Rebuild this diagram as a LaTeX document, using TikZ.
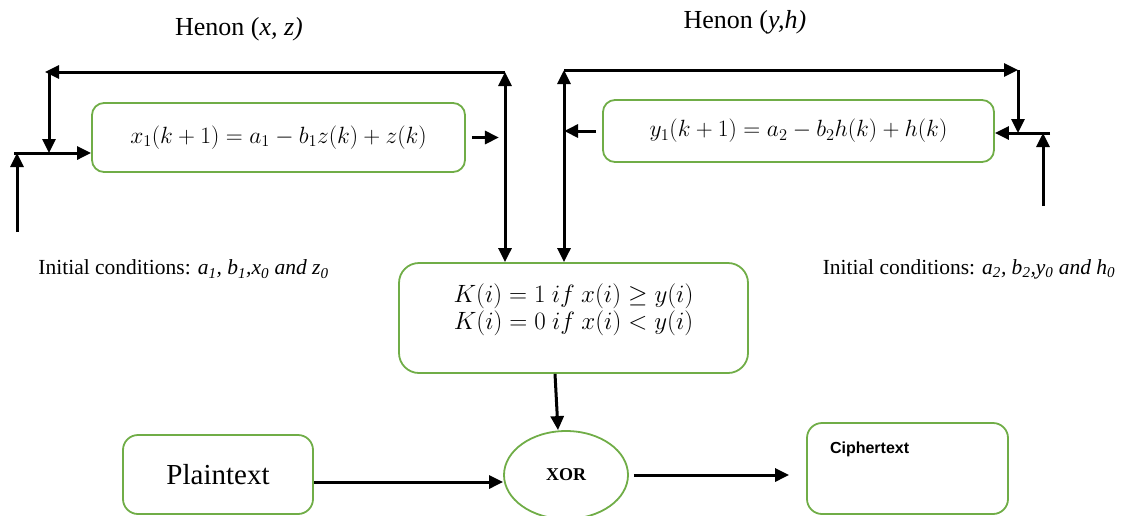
\RequirePackage{fix-cm}
\documentclass[tikz,border=0pt]{standalone}
\usepackage[no-math]{fontspec}
\setmainfont{Liberation Serif}
\newfontfamily\arialfont{Liberation Sans}
\usepackage{xcolor}
\usepackage{amsmath}
\usetikzlibrary{positioning}
\usetikzlibrary{shapes,arrows,calc,arrows.meta}
\definecolor{boxgreen}{RGB}{112,173,71}

\begin{document}
\begin{tikzpicture}[->,>={Triangle[length=14pt,width=13pt]},x=1pt,y=-1pt,line width=3pt,
    greenbox/.style={draw=boxgreen,line width=1.8pt,rounded corners=12pt,inner sep=0pt}]
  \useasboundingbox (0,0) rectangle (1123,515);
  % titles and initial conditions
  \node[font=\fontsize{26}{30}\selectfont] (hxz) at (239,29) {Henon (\textit{x, z)}};
  \node[font=\fontsize{26}{30}\selectfont] (hyh) at (745,22) {Henon (\textit{y,h)}};
  \node[font=\fontsize{21.5}{25}\selectfont] (icx) at (183.5,269) {Initial conditions: \textit{a\textsubscript{1}, b\textsubscript{1},x\textsubscript{0} and z\textsubscript{0}}};
  \node[font=\fontsize{21.5}{25}\selectfont] (icy) at (969,269) {Initial conditions: \textit{a\textsubscript{2}, b\textsubscript{2},y\textsubscript{0} and h\textsubscript{0}}};
  % blocks
  \node[greenbox,minimum width=373pt,minimum height=69pt,font=\fontsize{23.5}{28}\selectfont] (fx) at (278.5,137.5) {$x_1(k+1)=a_1-b_1z(k)+z(k)$};
  \node[greenbox,minimum width=391pt,minimum height=62pt,font=\fontsize{23.5}{28}\selectfont] (gy) at (798.5,131) {$y_1(k+1)=a_2-b_2h(k)+h(k)$};
  \node[greenbox,rounded corners=20pt,minimum width=349pt,minimum height=110pt,align=center,font=\fontsize{25}{27}\selectfont] (key) at (573.5,318)
    {$K(i)=1\ if\ x(i)\geq y(i)$\\$K(i)=0\ if\ x(i)<y(i)$\\[-5pt]\mbox{}};
  \node[greenbox,ellipse,minimum width=124pt,minimum height=88pt,font=\fontsize{18}{22}\selectfont\bfseries] (xor) at (566,475) {XOR};
  \node[greenbox,rounded corners=15pt,minimum width=190pt,minimum height=79pt,font=\fontsize{29}{34}\selectfont] (plain) at (218,474.5) {Plaintext};
  \node[greenbox,rounded corners=15pt,minimum width=201pt,text width=201pt,align=left,text height=30pt,text depth=61pt,
    font=\arialfont\bfseries\fontsize{16}{19}\selectfont] (cipher) at (907.5,468.5) {\hspace*{23pt}Ciphertext};
  % free ends of the loops
  \coordinate (xin) at (14,153);
  \coordinate (xic) at (17,232);
  \coordinate (xtl) at (45,72);
  \coordinate (xtr) at (505,72);
  \coordinate (ytl) at (564,70);
  \coordinate (ytr) at (1018,70);
  \coordinate (yin) at (1050,133);
  \coordinate (yic) at (1043,206);
  % Henon (x,z) loop
  \draw (xtr) -- (xtl);
  \draw ([xshift=4pt]xtl) -- ([xshift=4pt]xtl |- xin);
  \draw (xin) -- (xin -| fx.west);
  \draw (xic) -- (xic |- xin);
  \draw ([xshift=6pt]fx.east) -- ([xshift=33pt]fx.east);
  \draw[<->] (xtr) -- (xtr |- key.north);
  % Henon (y,h) loop
  \draw (ytl) -- (ytr);
  \draw (ytr) -- (ytr |- yin);
  \draw (yin) -- (yin -| gy.east);
  \draw (yic) -- (yic |- yin);
  \draw ([xshift=-6pt]gy.west) -- ([xshift=-38pt]gy.west);
  \draw[<->] (ytl) -- (ytl |- key.north);
  % key stream and encryption
  \draw ([xshift=-18.5pt]key.south) -- ([xshift=-8pt]xor.north);
  \draw ([yshift=-7.5pt]plain.east) -- ([yshift=-7pt]xor.west);
  \draw ([xshift=5pt]xor.east) -- ($(xor.east -| cipher.west)+(-17,0)$);
\end{tikzpicture}
\end{document}
